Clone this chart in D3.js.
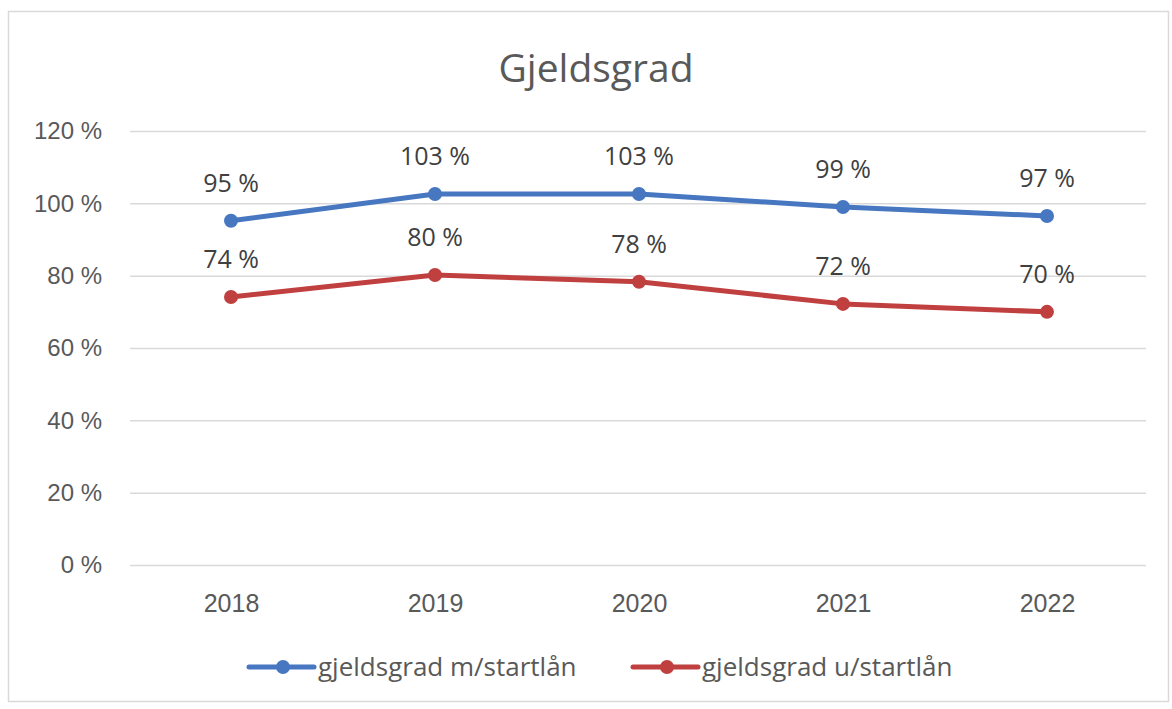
<!DOCTYPE html>
<html><head><meta charset="utf-8">
<script src="https://cdn.jsdelivr.net/npm/d3@7"></script>
<style>
html,body{margin:0;padding:0;background:#fff;}
svg{display:block;font-family:"Open Sans","Liberation Sans",sans-serif;}
</style></head>
<body><svg id="c" width="1172" height="709"></svg>
<script>
const years = ["2018","2019","2020","2021","2022"];
const seriesNames = ["gjeldsgrad m/startlån","gjeldsgrad u/startlån"];
const withStart = [95.2, 102.6, 102.6, 99.0, 96.5];
const withoutStart = [74.1, 80.2, 78.3, 72.2, 70.0];
const labelsWith = ["95 %","103 %","103 %","99 %","97 %"];
const labelsWithout = ["74 %","80 %","78 %","72 %","70 %"];
const yTicks = [0,20,40,60,80,100,120];
const colors = ["#4677C0","#C0403F"];

const svg = d3.select("#c");
svg.append("rect").attr("x",8.5).attr("y",11.5).attr("width",1160).attr("height",690)
  .attr("fill","#fff").attr("stroke","#d9d9d9").attr("stroke-width",1.5);

const x = d3.scalePoint().domain(years).range([231,1047]);
const y = d3.scaleLinear().domain([0,120]).range([565,131]);

svg.append("text").attr("x",596).attr("y",82).attr("text-anchor","middle")
  .attr("font-size",39).attr("fill","#595959").text("Gjeldsgrad");

const yAxis = d3.axisLeft(y).tickValues(yTicks).tickSize(-1016).tickFormat(d=>d+" %");
const gy = svg.append("g").attr("transform","translate(130,0)").call(yAxis);
gy.select(".domain").remove();
gy.selectAll(".tick line").attr("stroke","#d9d9d9").attr("stroke-width",1.5);
gy.selectAll(".tick text").attr("x",-28).attr("font-size",24).attr("fill","#595959");

const xAxis = d3.axisBottom(x).tickSize(0);
const gx = svg.append("g").attr("transform","translate(0,565)").call(xAxis);
gx.select(".domain").remove();
gx.selectAll(".tick text").attr("dy",0).attr("y",47).attr("font-size",25).attr("fill","#595959");

const series = [
  {vals: withStart, labels: labelsWith, color: colors[0]},
  {vals: withoutStart, labels: labelsWithout, color: colors[1]}
];
const line = d3.line().x((d,i)=>x(years[i])).y(d=>y(d));
series.forEach(s=>{
  svg.append("path").datum(s.vals).attr("d",line).attr("fill","none")
    .attr("stroke",s.color).attr("stroke-width",5).attr("stroke-linejoin","round").attr("stroke-linecap","round");
  svg.selectAll(null).data(s.vals).enter().append("circle")
    .attr("cx",(d,i)=>x(years[i])).attr("cy",d=>y(d)).attr("r",7).attr("fill",s.color);
  svg.selectAll(null).data(s.vals).enter().append("text")
    .attr("x",(d,i)=>x(years[i])).attr("y",d=>y(d)-29).attr("text-anchor","middle")
    .attr("font-size",25).attr("fill","#404040").text((d,i)=>s.labels[i]);
});

const legX = [249, 633];
seriesNames.forEach((n,i)=>{
  const g = svg.append("g").attr("transform",`translate(${legX[i]},667)`);
  g.append("line").attr("x1",0).attr("x2",65).attr("stroke",colors[i]).attr("stroke-width",5).attr("stroke-linecap","round");
  g.append("circle").attr("cx",34).attr("r",7).attr("fill",colors[i]);
  g.append("text").attr("x",69).attr("y",9).attr("font-size",26).attr("fill","#595959").text(n);
});
</script></body></html>
